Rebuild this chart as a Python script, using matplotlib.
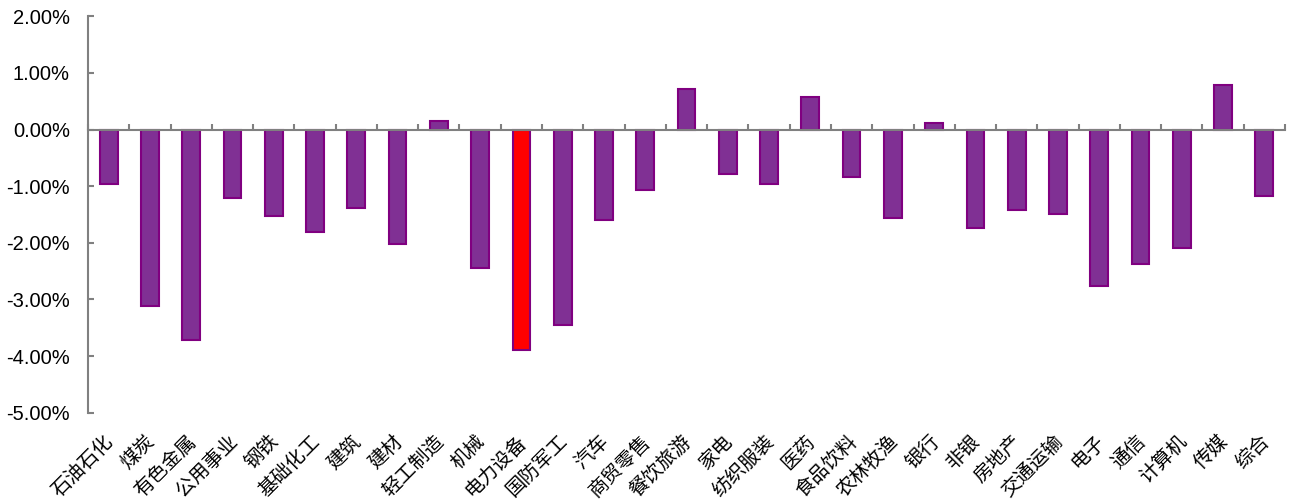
import matplotlib
matplotlib.use("Agg")
import matplotlib.pyplot as plt
from matplotlib.ticker import FuncFormatter, FixedLocator
import matplotlib.transforms as mtransforms

categories = ["石油石化", "煤炭", "有色金属", "公用事业", "钢铁", "基础化工", "建筑", "建材",
              "轻工制造", "机械", "电力设备", "国防军工", "汽车", "商贸零售", "餐饮旅游", "家电",
              "纺织服装", "医药", "食品饮料", "农林牧渔", "银行", "非银", "房地产", "交通运输",
              "电子", "通信", "计算机", "传媒", "综合"]
values = [-0.96, -3.11, -3.71, -1.20, -1.52, -1.81, -1.38, -2.02,
          0.15, -2.44, -3.89, -3.46, -1.59, -1.06, 0.71, -0.78,
          -0.96, 0.57, -0.84, -1.56, 0.12, -1.74, -1.42, -1.49,
          -2.77, -2.38, -2.09, 0.79, -1.17]
highlight = "电力设备"
yticks = [2, 1, 0, -1, -2, -3, -4, -5]

purple_fill = "#803094"
purple_edge = "#800080"
red_fill = "#FF0000"
gray = "#808080"

fig = plt.figure(figsize=(12.9, 4.99), dpi=100)
ax = fig.add_axes([88/1290, 1 - 412.7/499, (1285 - 88)/1290, (412.7 - 16.3)/499])

x = list(range(len(categories)))
colors = [red_fill if c == highlight else purple_fill for c in categories]
ax.bar(x, values, width=0.43, color=colors, edgecolor=purple_edge, linewidth=1.5, zorder=2)

ax.set_xlim(-0.5, len(categories) - 0.5)
ax.set_ylim(-5, 2)
ax.set_yticks(yticks)
ax.yaxis.set_major_formatter(FuncFormatter(lambda v, p: f"{v:.2f}%"))

for s in ["top", "right"]:
    ax.spines[s].set_visible(False)
ax.spines["left"].set_color(gray)
ax.spines["left"].set_linewidth(1.5)
ax.spines["bottom"].set_position(("data", 0))
ax.spines["bottom"].set_color(gray)
ax.spines["bottom"].set_linewidth(1.5)
ax.spines["bottom"].set_zorder(3)

ax.tick_params(axis="y", direction="in", length=4, width=1.5, color=gray,
               labelsize=14.5, labelcolor="black", pad=13)
for lab in ax.get_yticklabels():
    lab.set_family(["Liberation Sans", "DejaVu Sans"])

ax.set_xticks(x)
ax.set_xticklabels([])
ax.tick_params(axis="x", which="major", length=0)
ax.xaxis.set_minor_locator(FixedLocator([i + 0.5 for i in range(-1, len(categories))]))
ax.tick_params(axis="x", which="minor", direction="in", length=4, width=1.5, color=gray)

trans = mtransforms.blended_transform_factory(ax.transData, ax.transAxes)
for i, c in enumerate(categories):
    ax.text(i + 0.05, -0.065, c, transform=trans, rotation=45, rotation_mode="anchor",
            ha="right", va="center", fontsize=14,
            family=["Noto Sans CJK SC", "DejaVu Sans"])

fig.savefig("out.png", dpi=100)
